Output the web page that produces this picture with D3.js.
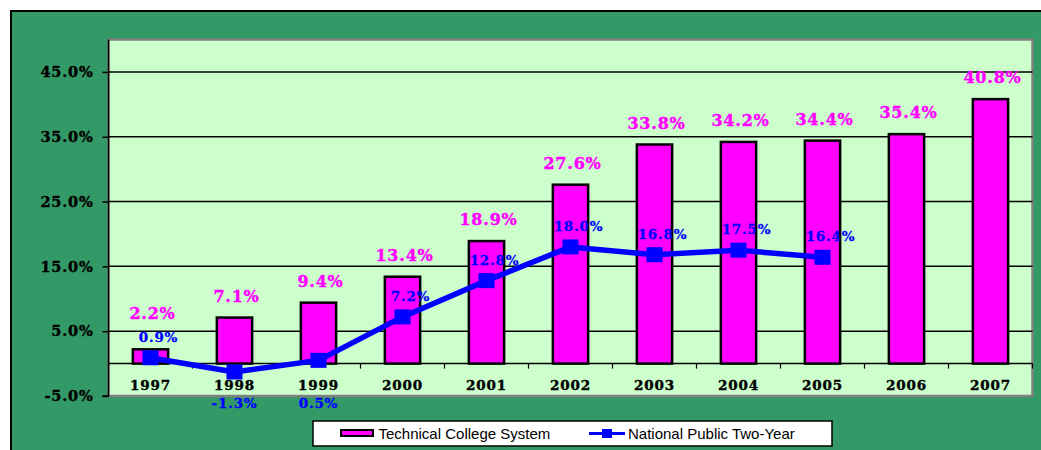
<!DOCTYPE html>
<html>
<head>
<meta charset="utf-8">
<script src="https://cdn.jsdelivr.net/npm/d3@7"></script>
<style>
  body { margin: 0; background: #fff; }
  .serif { font-family: "DejaVu Serif", serif; font-weight: bold; letter-spacing: 0.8px; }
</style>
</head>
<body>
<div id="chart"></div>
<script>
// Data
const years = ['1997', '1998', '1999', '2000', '2001', '2002', '2003', '2004', '2005', '2006', '2007'];
const technical = [2.2, 7.1, 9.4, 13.4, 18.9, 27.6, 33.8, 34.2, 34.4, 35.4, 40.8];
const national = [0.9, -1.3, 0.5, 7.2, 12.8, 18.0, 16.8, 17.5, 16.4, null, null];
const yTicks = [-5, 5, 15, 25, 35, 45];
const seriesNames = ['Technical College System', 'National Public Two-Year'];

const W = 1041, H = 450;
const plot = { left: 108.5, right: 1032.5, top: 39.5, bottom: 396 };

const svg = d3.select('#chart').append('svg')
    .attr('width', W)
    .attr('height', H);

// Outer green chart area
svg.append('rect')
    .attr('x', 11).attr('y', 11)
    .attr('width', W).attr('height', H)
    .attr('fill', '#339966')
    .attr('stroke', '#000')
    .attr('stroke-width', 2);

const x = d3.scaleBand()
    .domain(years)
    .range([plot.left, plot.right])
    .paddingInner(0.58)
    .paddingOuter(0.29);

const y = d3.scaleLinear()
    .domain([-5, 50])
    .range([plot.bottom, plot.top]);

// Plot area
svg.append('rect')
    .attr('x', plot.left).attr('y', plot.top)
    .attr('width', plot.right - plot.left)
    .attr('height', plot.bottom - plot.top)
    .attr('fill', '#CCFFCC')
    .attr('stroke', '#808080')
    .attr('stroke-width', 2.5);

// Gridlines
svg.selectAll('.grid')
    .data(yTicks.filter(d => d > -5))
    .enter()
    .append('line')
    .attr('x1', plot.left).attr('x2', plot.right)
    .attr('y1', d => y(d)).attr('y2', d => y(d))
    .attr('stroke', '#000')
    .attr('stroke-width', 1.5);

// Y axis
const yAxis = svg.append('g')
    .attr('transform', `translate(${plot.left},0)`)
    .call(d3.axisLeft(y)
        .tickValues(yTicks)
        .tickFormat(d => d.toFixed(1) + '%')
        .tickSize(6)
        .tickPadding(9));
yAxis.select('.domain')
    .attr('d', `M-6,${plot.bottom}H0V${plot.top}`)
    .attr('stroke-width', 1.5);
yAxis.selectAll('.tick line').attr('stroke-width', 1.5);
yAxis.selectAll('.tick text')
    .attr('class', 'serif')
    .attr('font-size', 14.5)
    .attr('fill', '#000')
    .attr('stroke', '#000')
    .attr('stroke-width', 0.4);

// Category axis along zero
const step = x.step();
const zeroY = y(0);
svg.append('line')
    .attr('x1', plot.left).attr('x2', plot.right)
    .attr('y1', zeroY).attr('y2', zeroY)
    .attr('stroke', '#000')
    .attr('stroke-width', 1.5);
svg.selectAll('.xtick')
    .data(years)
    .enter()
    .append('line')
    .attr('x1', d => x(d) + x.bandwidth() / 2 + step / 2)
    .attr('x2', d => x(d) + x.bandwidth() / 2 + step / 2)
    .attr('y1', zeroY).attr('y2', zeroY + 5)
    .attr('stroke', '#000')
    .attr('stroke-width', 1.2);
svg.selectAll('.xlabel')
    .data(years)
    .enter()
    .append('text')
    .attr('class', 'serif')
    .attr('x', d => x(d) + x.bandwidth() / 2)
    .attr('y', y(-5) - 6)
    .attr('text-anchor', 'middle')
    .attr('font-size', 13.5)
    .attr('fill', '#000')
    .attr('stroke', '#000')
    .attr('stroke-width', 0.4)
    .text(d => d);

// Bars
svg.selectAll('.bar')
    .data(technical)
    .enter()
    .append('rect')
    .attr('x', (d, i) => x(years[i]))
    .attr('y', d => y(d))
    .attr('width', x.bandwidth())
    .attr('height', d => zeroY - y(d))
    .attr('fill', '#FF00FF')
    .attr('stroke', '#000')
    .attr('stroke-width', 2.5);

// Line series
const pts = national.map((v, i) => ({ year: years[i], v }));
const line = d3.line()
    .defined(d => d.v != null)
    .x(d => x(d.year) + x.bandwidth() / 2)
    .y(d => y(d.v));
svg.append('path')
    .datum(pts)
    .attr('d', line)
    .attr('fill', 'none')
    .attr('stroke', '#0000FF')
    .attr('stroke-width', 5.5)
    .attr('stroke-linejoin', 'round');
svg.selectAll('.marker')
    .data(pts.filter(d => d.v != null))
    .enter()
    .append('rect')
    .attr('x', d => x(d.year) + x.bandwidth() / 2 - 8)
    .attr('y', d => y(d.v) - 7.5)
    .attr('width', 16)
    .attr('height', 15)
    .attr('fill', '#0000FF');

// Bar labels
svg.selectAll('.tlabel')
    .data(technical)
    .enter()
    .append('text')
    .attr('class', 'serif')
    .attr('x', (d, i) => x(years[i]) + x.bandwidth() / 2 + 2)
    .attr('y', (d, i) => y(d) - (i === 0 ? 30 : 16))
    .attr('text-anchor', 'middle')
    .attr('font-size', 16)
    .attr('fill', '#FF00FF')
    .attr('stroke', '#FF00FF')
    .attr('stroke-width', 0.4)
    .text(d => d.toFixed(1) + '%');

// Line labels (1998 and 1999 sit under the axis)
svg.selectAll('.nlabel')
    .data(pts.filter(d => d.v != null))
    .enter()
    .append('text')
    .attr('class', 'serif')
    .attr('x', d => x(d.year) + x.bandwidth() / 2 + (d.year === '1998' || d.year === '1999' ? 0 : 8))
    .attr('y', d => (d.year === '1998' || d.year === '1999') ? y(-5) + 12 : y(d.v) - 16)
    .attr('text-anchor', 'middle')
    .attr('font-size', 13.5)
    .attr('fill', '#0000FF')
    .attr('stroke', '#0000FF')
    .attr('stroke-width', 0.3)
    .text(d => d.v.toFixed(1) + '%');

// Legend
const legend = svg.append('g');
legend.append('rect')
    .attr('x', 313).attr('y', 421)
    .attr('width', 519).attr('height', 25)
    .attr('fill', '#fff')
    .attr('stroke', '#000')
    .attr('stroke-width', 1.5);
legend.append('rect')
    .attr('x', 341).attr('y', 430)
    .attr('width', 32).attr('height', 6)
    .attr('fill', '#FF00FF')
    .attr('stroke', '#000')
    .attr('stroke-width', 2);
legend.append('line')
    .attr('x1', 589).attr('x2', 625)
    .attr('y1', 433.5).attr('y2', 433.5)
    .attr('stroke', '#0000FF')
    .attr('stroke-width', 3);
legend.append('rect')
    .attr('x', 602).attr('y', 429)
    .attr('width', 10).attr('height', 9)
    .attr('fill', '#0000FF');
legend.selectAll('.ltext')
    .data(seriesNames)
    .enter()
    .append('text')
    .attr('x', (d, i) => i === 0 ? 378.5 : 628)
    .attr('y', 439)
    .attr('font-family', '"Liberation Sans", Arial, sans-serif')
    .attr('font-size', 15)
    .attr('fill', '#000')
    .text(d => d);
</script>
</body>
</html>
